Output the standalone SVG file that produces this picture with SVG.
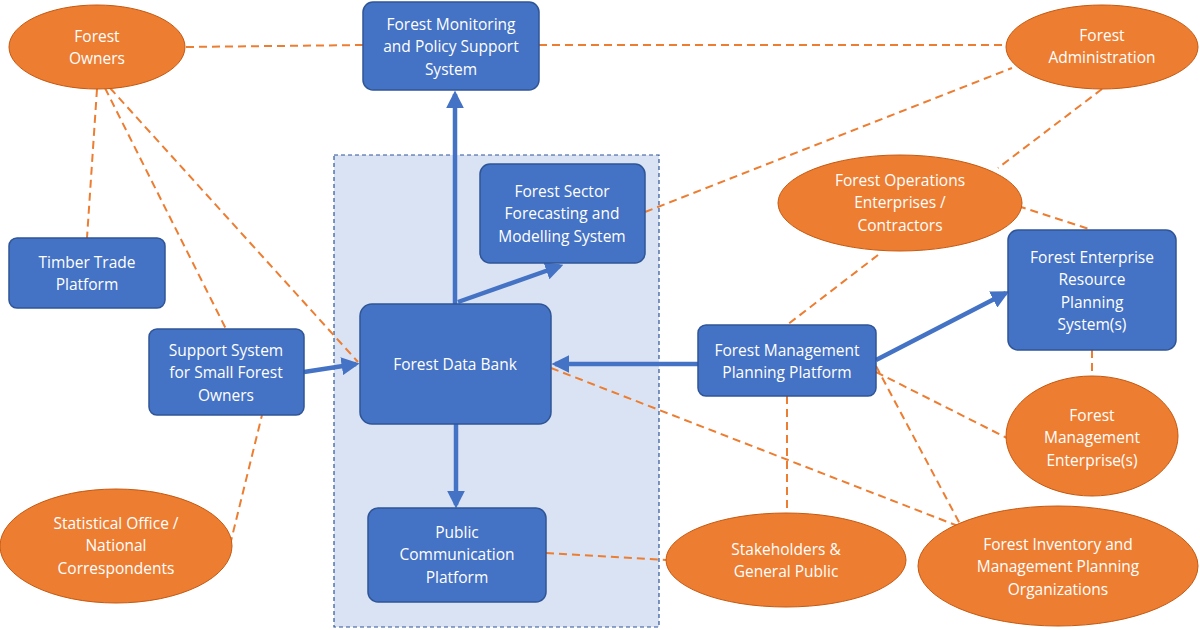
<svg xmlns="http://www.w3.org/2000/svg" width="1200" height="630" viewBox="0 0 1200 630">
<defs>
<marker id="ah" viewBox="0 0 10 10" refX="8" refY="5" markerWidth="4" markerHeight="4" orient="auto"><path d="M0,0L10,5L0,10z" fill="#4472c4"/></marker>
<style>
.b{fill:#4472c4;stroke:#2f5597;stroke-width:1.5}
.e{fill:#ed7d31;stroke:#c55a11;stroke-width:1}
.t{font-family:"Open Sans","Liberation Sans",sans-serif;font-size:15.5px;fill:#fff;text-anchor:middle}
.d{stroke:#ed7d31;stroke-width:2;stroke-dasharray:8 5;fill:none}
.s{stroke:#4472c4;stroke-width:4.5;fill:none;marker-end:url(#ah)}
</style>
</defs>
<rect width="1200" height="630" fill="#fff"/>
<rect x="334" y="155" width="325" height="472" fill="#dae3f3" stroke="#2f5597" stroke-width="1.2" stroke-dasharray="4 3"/>
<g id="connectors">
<line class="d" x1="186" y1="47" x2="363" y2="45"/>
<line class="d" x1="539" y1="45" x2="1006" y2="45"/>
<line class="d" x1="97" y1="89" x2="87" y2="238"/>
<line class="d" x1="105" y1="88" x2="226" y2="329"/>
<line class="d" x1="110" y1="88" x2="358" y2="362"/>
<line class="d" x1="645" y1="212" x2="1012" y2="68"/>
<line class="d" x1="1102" y1="89" x2="998" y2="168"/>
<line class="d" x1="1018" y1="206" x2="1092" y2="230"/>
<line class="d" x1="878" y1="255" x2="787" y2="325"/>
<line class="d" x1="1092" y1="350" x2="1092" y2="377"/>
<line class="d" x1="876" y1="372" x2="1007" y2="438"/>
<line class="d" x1="876" y1="366" x2="960" y2="524"/>
<line class="d" x1="787" y1="396" x2="787" y2="515"/>
<line class="d" x1="551" y1="368" x2="958" y2="526"/>
<line class="d" x1="230" y1="545" x2="262" y2="415"/>
<line class="d" x1="546" y1="553" x2="666" y2="560"/>
<line class="s" x1="455" y1="304" x2="455" y2="94"/>
<line class="s" x1="458" y1="302" x2="560" y2="266"/>
<line class="s" x1="456" y1="424" x2="456" y2="505"/>
<line class="s" x1="304" y1="372" x2="356" y2="364"/>
<line class="s" x1="698" y1="364" x2="555" y2="364"/>
<line class="s" x1="876" y1="360" x2="1006" y2="293"/>
</g>
<g id="owners"><ellipse class="e" cx="97" cy="47" rx="88" ry="42"/><text class="t" x="97" y="42">Forest</text><text class="t" x="97" y="64">Owners</text></g>
<g id="monitoring"><rect class="b" x="363" y="2" width="176" height="88" rx="10"/><text class="t" x="451" y="30">Forest Monitoring</text><text class="t" x="451" y="52">and Policy Support</text><text class="t" x="451" y="75">System</text></g>
<g id="admin"><ellipse class="e" cx="1102" cy="47" rx="96" ry="42"/><text class="t" x="1102" y="41">Forest</text><text class="t" x="1102" y="63">Administration</text></g>
<g id="sector"><rect class="b" x="480" y="164" width="165" height="99" rx="10"/><text class="t" x="562" y="197">Forest Sector</text><text class="t" x="562" y="219">Forecasting and</text><text class="t" x="562" y="242">Modelling System</text></g>
<g id="operations"><ellipse class="e" cx="900" cy="203" rx="122" ry="48"/><text class="t" x="900" y="186">Forest Operations</text><text class="t" x="900" y="208">Enterprises /</text><text class="t" x="900" y="231">Contractors</text></g>
<g id="erp"><rect class="b" x="1008" y="230" width="168" height="120" rx="10"/><text class="t" x="1092" y="263">Forest Enterprise</text><text class="t" x="1092" y="285">Resource</text><text class="t" x="1092" y="308">Planning</text><text class="t" x="1092" y="330">System(s)</text></g>
<g id="timber"><rect class="b" x="9" y="238" width="156" height="70" rx="8"/><text class="t" x="87" y="268">Timber Trade</text><text class="t" x="87" y="290">Platform</text></g>
<g id="support"><rect class="b" x="149" y="329" width="155" height="86" rx="8"/><text class="t" x="226" y="356">Support System</text><text class="t" x="226" y="378">for Small Forest</text><text class="t" x="226" y="401">Owners</text></g>
<g id="databank"><rect class="b" x="360" y="304" width="191" height="120" rx="12"/><text class="t" x="455" y="370">Forest Data Bank</text></g>
<g id="fmpp"><rect class="b" x="698" y="325" width="178" height="71" rx="8"/><text class="t" x="787" y="356">Forest Management</text><text class="t" x="787" y="378">Planning Platform</text></g>
<g id="fme"><ellipse class="e" cx="1092" cy="436" rx="86" ry="60"/><text class="t" x="1092" y="421">Forest</text><text class="t" x="1092" y="443">Management</text><text class="t" x="1092" y="466">Enterprise(s)</text></g>
<g id="public"><rect class="b" x="368" y="508" width="178" height="94" rx="10"/><text class="t" x="457" y="538">Public</text><text class="t" x="457" y="560">Communication</text><text class="t" x="457" y="583">Platform</text></g>
<g id="stake"><ellipse class="e" cx="786" cy="560" rx="120" ry="47"/><text class="t" x="786" y="555">Stakeholders &amp;</text><text class="t" x="786" y="577">General Public</text></g>
<g id="inventory"><ellipse class="e" cx="1058" cy="566" rx="140" ry="60"/><text class="t" x="1058" y="550">Forest Inventory and</text><text class="t" x="1058" y="572">Management Planning</text><text class="t" x="1058" y="595">Organizations</text></g>
<g id="statistical"><ellipse class="e" cx="116" cy="546" rx="116" ry="57"/><text class="t" x="116" y="529">Statistical Office /</text><text class="t" x="116" y="551">National</text><text class="t" x="116" y="574">Correspondents</text></g>
</svg>
